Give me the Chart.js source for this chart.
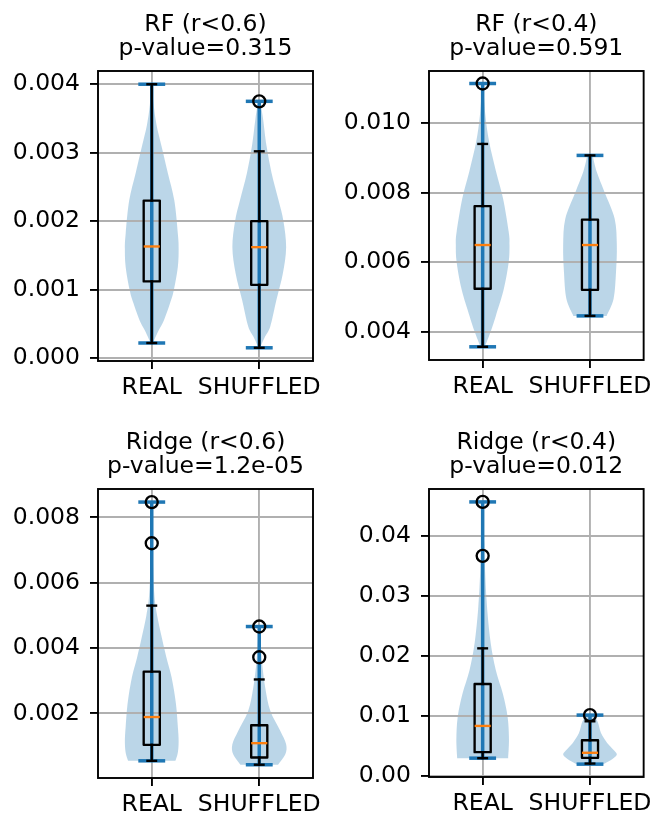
<!DOCTYPE html>
<html>
<head>
<meta charset="utf-8">
<title>Violin plots</title>
<script src="https://cdn.jsdelivr.net/npm/chart.js@4.4.1/dist/chart.umd.min.js"></script>
<style>
  html, body { margin: 0; padding: 0; background: #fff; overflow: hidden; }
  #page { position: relative; width: 652px; height: 815px; overflow: hidden; }
  #page canvas { position: absolute; }
</style>
</head>
<body>
<div id="page">
  <canvas id="rf06" width="326" height="407" style="left:0px;top:0px"></canvas>
  <canvas id="rf04" width="326" height="407" style="left:326px;top:0px"></canvas>
  <canvas id="ridge06" width="326" height="408" style="left:0px;top:407px"></canvas>
  <canvas id="ridge04" width="326" height="408" style="left:326px;top:407px"></canvas>
</div>
<script>
const categories = ['REAL', 'SHUFFLED'];

const titles = [
  ['RF (r<0.6)', 'p-value=0.315'],
  ['RF (r<0.4)', 'p-value=0.591'],
  ['Ridge (r<0.6)', 'p-value=1.2e-05'],
  ['Ridge (r<0.4)', 'p-value=0.012']
];

const yTicks = [
  [0, 0.001, 0.002, 0.003, 0.004],
  [0.004, 0.006, 0.008, 0.010],
  [0.002, 0.004, 0.006, 0.008],
  [0, 0.01, 0.02, 0.03, 0.04]
];
const yDecimals = [3, 3, 3, 2];
const yLimits = [[-0.000043, 0.004193], [0.00318, 0.0115], [0.000024, 0.00887], [-0.00025, 0.0479]];

// box stats for REAL, SHUFFLED: [lower whisker, q1, median, q3, upper whisker]
const rf06Boxes = [[0.00022, 0.00112, 0.00163, 0.0023, 0.004], [0.00015, 0.00107, 0.00162, 0.002, 0.00302]];
const rf04Boxes = [[0.00356, 0.00523, 0.00649, 0.00761, 0.0094], [0.00445, 0.0052, 0.00649, 0.00722, 0.00907]];
const ridge06Boxes = [[0.00055, 0.00104, 0.00189, 0.00328, 0.0053], [0.00043, 0.00065, 0.00109, 0.00164, 0.00304]];
const ridge04Boxes = [[0.0029, 0.0039, 0.00829, 0.0153, 0.02126], [0.002, 0.00295, 0.0038, 0.0059, 0.00906]];

// fliers
const rf06Outliers = [[], [0.00375]];
const rf04Outliers = [[0.01114], []];
const ridge06Outliers = [[0.00847, 0.00721], [0.00466, 0.00372]];
const ridge04Outliers = [[0.04574, 0.03673], [0.0101]];

// data min / max (violin caps)
const rf06Extrema = [[0.00022, 0.004], [0.00015, 0.00375]];
const rf04Extrema = [[0.00356, 0.01114], [0.00445, 0.00907]];
const ridge06Extrema = [[0.00055, 0.00847], [0.00043, 0.00466]];
const ridge04Extrema = [[0.0029, 0.04574], [0.0019, 0.0101]];

// violin outlines: sample values and normalised density at each
const rf06ViolinY = [
  [0.00022, 0.0004, 0.00055, 0.0008, 0.00099, 0.00133, 0.0016, 0.00182, 0.0023, 0.0027, 0.0031, 0.0034, 0.0037, 0.004],
  [0.00015, 0.0003, 0.00046, 0.00085, 0.00124, 0.00162, 0.002, 0.0023, 0.0027, 0.0031, 0.0035, 0.00375]
];
const rf06ViolinW = [
  [0.04, 0.25, 0.45, 0.68, 0.82, 0.97, 1.0, 0.97, 0.84, 0.6, 0.36, 0.18, 0.07, 0.02],
  [0.03, 0.2, 0.41, 0.64, 0.88, 1.0, 0.9, 0.72, 0.46, 0.27, 0.14, 0.04]
];
const rf04ViolinY = [
  [0.00356, 0.004, 0.00445, 0.00523, 0.006, 0.0065, 0.00687, 0.00783, 0.0086, 0.00947, 0.01024, 0.01114],
  [0.00445, 0.00494, 0.00571, 0.00648, 0.00725, 0.00802, 0.0086, 0.00907]
];
const rf04ViolinW = [
  [0.08, 0.3, 0.49, 0.79, 0.97, 1.0, 0.97, 0.76, 0.5, 0.24, 0.1, 0.02],
  [0.62, 0.88, 0.97, 1.0, 0.92, 0.54, 0.25, 0.1]
];
const ridge06ViolinY = [
  [0.00055, 0.0008, 0.00115, 0.0016, 0.0023, 0.0031, 0.0037, 0.0043, 0.005, 0.0056, 0.0065, 0.0075, 0.00847],
  [0.00043, 0.00075, 0.00106, 0.00147, 0.00208, 0.0028, 0.0036, 0.0042, 0.00466]
];
const ridge06ViolinW = [
  [0.88, 0.97, 1.0, 0.97, 0.9, 0.74, 0.55, 0.38, 0.2, 0.1, 0.05, 0.03, 0.01],
  [0.7, 0.97, 1.0, 0.78, 0.41, 0.22, 0.1, 0.05, 0.02]
];
const ridge04ViolinY = [
  [0.0029, 0.006, 0.0098, 0.0137, 0.0176, 0.0221, 0.0277, 0.0332, 0.0388, 0.04574],
  [0.0019, 0.0028, 0.0035, 0.0042, 0.00545, 0.0071, 0.0088, 0.0101]
];
const ridge04ViolinW = [
  [0.95, 0.98, 0.93, 0.75, 0.49, 0.3, 0.17, 0.1, 0.06, 0.02],
  [0.5, 0.85, 1.0, 0.9, 0.64, 0.41, 0.3, 0.15]
];

const boxStats = [rf06Boxes, rf04Boxes, ridge06Boxes, ridge04Boxes];
const outliers = [rf06Outliers, rf04Outliers, ridge06Outliers, ridge04Outliers];
const extrema = [rf06Extrema, rf04Extrema, ridge06Extrema, ridge04Extrema];
const violinY = [rf06ViolinY, rf04ViolinY, ridge06ViolinY, ridge04ViolinY];
const violinW = [rf06ViolinW, rf04ViolinW, ridge06ViolinW, ridge04ViolinW];

const FONT = '23.5px "DejaVu Sans"';
Chart.defaults.font.family = 'DejaVu Sans';
Chart.defaults.font.size = 23.5;
Chart.defaults.color = '#000';

// catmull-rom through the outline points
function spline(ctx, pts, first) {
  for (let k = 0; k < pts.length; k++) {
    const p = pts[k];
    if (k === 0) {
      if (first) ctx.moveTo(p[0], p[1]); else ctx.lineTo(p[0], p[1]);
      continue;
    }
    const p0 = pts[Math.max(k - 2, 0)], p1 = pts[k - 1], p3 = pts[Math.min(k + 1, pts.length - 1)];
    ctx.bezierCurveTo(
      p1[0] + (p[0] - p0[0]) / 6, p1[1] + (p[1] - p0[1]) / 6,
      p[0] - (p3[0] - p1[0]) / 6, p[1] - (p3[1] - p1[1]) / 6,
      p[0], p[1]);
  }
}

const violinPlugin = {
  id: 'violinBox',
  beforeDraw(chart, args, opts) {
    const n = opts.panel, ctx = chart.ctx, xs = chart.scales.x, ys = chart.scales.y;
    ctx.save();
    ctx.fillStyle = 'rgba(31, 119, 180, 0.3)';
    violinY[n].forEach((vals, i) => {
      const dens = violinW[n][i];
      const left = vals.map((v, k) => [xs.getPixelForValue(i + 1 - 0.25 * dens[k]), ys.getPixelForValue(v)]);
      const right = vals.map((v, k) => [xs.getPixelForValue(i + 1 + 0.25 * dens[k]), ys.getPixelForValue(v)]).reverse();
      ctx.beginPath();
      spline(ctx, left, true);
      spline(ctx, right, false);
      ctx.closePath();
      ctx.fill();
    });
    // two-line title centred over the axes
    const a = chart.chartArea;
    ctx.fillStyle = '#000';
    ctx.font = FONT;
    ctx.textAlign = 'center';
    ctx.textBaseline = 'alphabetic';
    const cx = (a.left + a.right) / 2;
    ctx.fillText(titles[n][0], cx, a.top - 40);
    ctx.fillText(titles[n][1], cx, a.top - 16);
    ctx.restore();
  },
  beforeDatasetsDraw(chart, args, opts) {
    const n = opts.panel, ctx = chart.ctx, xs = chart.scales.x, ys = chart.scales.y;
    const seg = (x1, y1, x2, y2) => {
      ctx.beginPath();
      ctx.moveTo(xs.getPixelForValue(x1), ys.getPixelForValue(y1));
      ctx.lineTo(xs.getPixelForValue(x2), ys.getPixelForValue(y2));
      ctx.stroke();
    };
    ctx.save();
    // violin bars and min/max caps
    ctx.strokeStyle = '#1f77b4';
    ctx.lineWidth = 3.5;
    ctx.lineCap = 'butt';
    extrema[n].forEach(([lo, hi], i) => {
      const x = i + 1;
      seg(x, lo, x, hi);
      seg(x - 0.125, lo, x + 0.125, lo);
      seg(x - 0.125, hi, x + 0.125, hi);
    });
    // boxplots
    ctx.lineWidth = 2.35;
    ctx.lineCap = 'square';
    ctx.lineJoin = 'round';
    boxStats[n].forEach(([lo, q1, med, q3, hi], i) => {
      const x = i + 1;
      ctx.strokeStyle = '#000';
      seg(x, q1, x, lo);
      seg(x, q3, x, hi);
      seg(x - 0.04, lo, x + 0.04, lo);
      seg(x - 0.04, hi, x + 0.04, hi);
      const l = xs.getPixelForValue(x - 0.075), r = xs.getPixelForValue(x + 0.075);
      const t = ys.getPixelForValue(q3), b = ys.getPixelForValue(q1);
      ctx.strokeRect(l, t, r - l, b - t);
      ctx.strokeStyle = '#ff7f0e';
      ctx.lineCap = 'butt';
      seg(x - 0.075, med, x + 0.075, med);
      ctx.lineCap = 'square';
    });
    ctx.restore();
  },
  afterDatasetsDraw(chart) {
    const a = chart.chartArea, ctx = chart.ctx;
    ctx.save();
    ctx.strokeStyle = '#000';
    ctx.lineWidth = 1.9;
    ctx.strokeRect(a.left, a.top, a.right - a.left, a.bottom - a.top);
    ctx.restore();
  }
};

const layouts = [
  { id: 'rf06', yWidth: 98, xHeight: 46, top: 71, right: 13 },
  { id: 'rf04', yWidth: 103, xHeight: 47, top: 71, right: 8 },
  { id: 'ridge06', yWidth: 98, xHeight: 37, top: 82, right: 13 },
  { id: 'ridge04', yWidth: 103, xHeight: 38, top: 82, right: 8 }
];

const gridStyle = { color: '#b0b0b0', lineWidth: 1.9, tickColor: '#000', tickWidth: 1.9, tickLength: 8 };

layouts.forEach((lay, n) => {
  new Chart(document.getElementById(lay.id), {
    type: 'scatter',
    data: {
      datasets: [{
        data: outliers[n].flatMap((vals, i) => vals.map(v => ({ x: i + 1, y: v }))),
        pointRadius: 6,
        pointBorderWidth: 2.35,
        pointBorderColor: '#000',
        pointBackgroundColor: 'rgba(0,0,0,0)'
      }]
    },
    options: {
      responsive: false,
      animation: false,
      devicePixelRatio: 1,
      layout: { padding: { top: lay.top, right: lay.right, left: 0, bottom: 0 } },
      plugins: {
        legend: { display: false },
        tooltip: { enabled: false },
        title: { display: false },
        violinBox: { panel: n }
      },
      scales: {
        x: {
          type: 'linear',
          min: 0.5,
          max: 2.5,
          bounds: 'data',
          afterBuildTicks: s => { s.ticks = [{ value: 1 }, { value: 2 }]; },
          afterFit: s => { s.height = lay.xHeight; s.paddingLeft = 0; s.paddingRight = 0; },
          ticks: { callback: v => categories[v - 1], padding: 5, maxRotation: 0, minRotation: 0, autoSkip: false },
          grid: gridStyle,
          border: { display: false }
        },
        y: {
          type: 'linear',
          min: yLimits[n][0],
          max: yLimits[n][1],
          bounds: 'data',
          afterBuildTicks: s => { s.ticks = yTicks[n].map(v => ({ value: v })); },
          afterFit: s => { s.width = lay.yWidth; s.paddingTop = 0; s.paddingBottom = 0; },
          ticks: { callback: v => v.toFixed(yDecimals[n]), padding: 10 },
          grid: gridStyle,
          border: { display: false }
        }
      }
    },
    plugins: [violinPlugin]
  });
});
</script>
</body>
</html>
